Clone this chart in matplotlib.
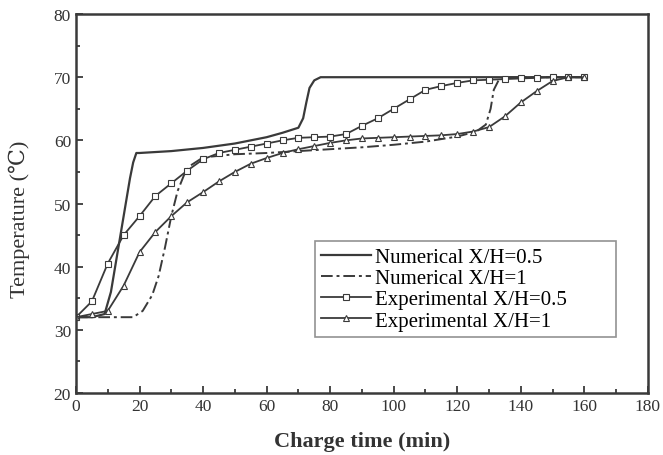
import numpy as np
import matplotlib
matplotlib.use("Agg")
import matplotlib.pyplot as plt
from matplotlib.ticker import MultipleLocator

plt.rcParams['font.family'] = ['Liberation Serif', 'DejaVu Serif']

# numerical X/H=0.5 (solid)
num05_t = [0, 5, 9, 11, 13, 15, 17, 18, 19, 20, 30, 40, 50, 60, 65, 70, 71.5, 72.5, 73.5, 75, 77, 80, 100, 120, 140, 160]
num05_T = [32, 32, 32.5, 36, 42, 48, 54, 56.5, 58, 58, 58.3, 58.8, 59.5, 60.5, 61.2, 62, 63.5, 66, 68.3, 69.5, 70, 70, 70, 70, 70, 70]

# numerical X/H=1 (dash-dot)
num1_t = [0, 10, 18, 21, 24, 26, 28, 30, 32, 34, 36, 40, 50, 60, 70, 80, 90, 100, 110, 120, 126, 129, 130.5, 131.5, 133, 135, 140, 150, 160]
num1_T = [32, 32, 32, 33, 35.5, 38.5, 43, 48, 52, 54.5, 56, 57.3, 57.8, 58, 58.3, 58.6, 58.9, 59.3, 59.8, 60.6, 61.4, 62.5, 65, 68, 69.5, 70, 70, 70, 70]

# experimental, sampled every 5 min
exp_t = list(range(0, 165, 5))
exp05_T = [32, 34.5, 40.5, 45, 48, 51.2, 53.2, 55.2, 57, 58, 58.5, 59, 59.5, 60, 60.4, 60.5, 60.6, 61, 62.3, 63.5, 65, 66.5, 68, 68.6, 69.1, 69.5, 69.6, 69.7, 69.8, 69.9, 70, 70, 70]
exp1_T = [32, 32.5, 33, 37, 42.3, 45.5, 48, 50.2, 51.8, 53.5, 55, 56.3, 57.2, 58, 58.6, 59.1, 59.6, 60, 60.3, 60.4, 60.5, 60.6, 60.7, 60.8, 61, 61.4, 62.1, 63.8, 66, 67.8, 69.4, 70, 70]

labels = ['Numerical X/H=0.5', 'Numerical X/H=1', 'Experimental X/H=0.5', 'Experimental X/H=1']

c = '#3a3a3a'
fig = plt.figure(figsize=(6.63, 4.56), dpi=100)
ax = fig.add_axes([0.1146, 0.136, 0.8626, 0.831])

ax.plot(num05_t, num05_T, '-', color=c, lw=1.6, label=labels[0])
ax.plot(num1_t, num1_T, color=c, lw=1.4, dashes=[6, 2, 1.5, 2], label=labels[1])
ax.plot(exp_t, exp05_T, '-', color=c, lw=1.3, marker='s', ms=4, mfc='white', mec=c, mew=0.8, label=labels[2])
ax.plot(exp_t, exp1_T, '-', color=c, lw=1.3, marker='^', ms=4, mfc='white', mec=c, mew=0.8, label=labels[3])

ax.set_xlim(0, 180)
ax.set_ylim(20, 80)
ax.xaxis.set_major_locator(MultipleLocator(20))
ax.xaxis.set_minor_locator(MultipleLocator(10))
ax.yaxis.set_major_locator(MultipleLocator(10))
ax.yaxis.set_minor_locator(MultipleLocator(5))
ax.tick_params(which='both', direction='in', colors=c, labelcolor='#333333', labelsize=12.5, width=1.3)
ax.tick_params(which='major', length=5)
ax.tick_params(which='minor', length=3)
for s in ax.spines.values():
    s.set_linewidth(1.8)
    s.set_color(c)

ax.set_xlabel('Charge time (min)', fontsize=16, fontweight='bold', color='#333333')
ax.set_ylabel('Temperature (\u2103)', fontsize=16, color='#333333')
ax.xaxis.set_label_coords(0.5, -0.1)
ax.yaxis.set_label_coords(-0.08, 0.46)

leg = ax.legend(loc='lower left', bbox_to_anchor=(0.418, 0.148, 0.526, 0.27), mode='expand',
                borderaxespad=0, fontsize=15, frameon=True, fancybox=False, edgecolor='#777777',
                handlelength=2.4, handletextpad=0.2, borderpad=0.3, labelspacing=0.08)
leg.get_frame().set_linewidth(1.2)

fig.savefig('out.png', dpi=100)
